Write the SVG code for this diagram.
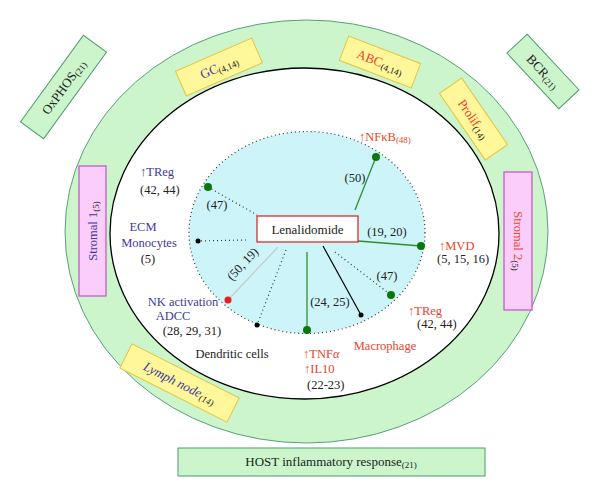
<svg xmlns="http://www.w3.org/2000/svg" width="600" height="497" viewBox="0 0 600 497" font-family="Liberation Serif, DejaVu Serif, serif">
<style>
text{font-family:'Liberation Serif','DejaVu Serif',serif;font-size:12.5px;fill:#222}
.blue{fill:#3b3b9e}
.red{fill:#e8452c}
.sub{font-size:9px;fill:#222}
.lbl{text-anchor:middle}
.ybox{fill:#fff79a;stroke:#e4c443;stroke-width:1}
.pbox{fill:#fbcdfb;stroke:#c64fc6;stroke-width:1.2}
.gbox{fill:#ccf5cc;stroke:#4f9a6e;stroke-width:1}
.gdot{fill:#0b780b}
.kdot{fill:#000}
.gl{stroke:#2f8f2f;stroke-width:1.3;fill:none}
.dl{stroke:#333;stroke-width:1.2;stroke-dasharray:1 3;fill:none}
</style>
<g id="ring">
<ellipse cx="306.5" cy="231.5" rx="241.5" ry="211.5" fill="#ccf5cc" stroke="#5a9f7c" stroke-width="1"/>
<ellipse cx="304.5" cy="233.5" rx="194.5" ry="165.5" fill="#fff" stroke="#000" stroke-width="1.3"/>
<ellipse cx="307" cy="232.5" rx="118" ry="101" fill="#cdf5f9" stroke="#333" stroke-width="1.2" stroke-dasharray="1 3"/>
</g>
<g id="connectors">
<line class="gl" x1="355" y1="210" x2="376" y2="157"/>
<line class="gl" x1="358" y1="241" x2="421" y2="246"/>
<line class="dl" x1="335" y1="252" x2="391" y2="295" stroke="#2f8f2f"/>
<line x1="323" y1="246" x2="361" y2="315" stroke="#000" stroke-width="1.2"/>
<line class="gl" x1="307" y1="252" x2="307" y2="330"/>
<line class="dl" x1="286" y1="250" x2="257" y2="325"/>
<line x1="278" y1="247" x2="228" y2="300" stroke="#c8c8c8" stroke-width="1.2"/>
<line class="dl" x1="246" y1="240" x2="198" y2="241"/>
<line class="dl" x1="208" y1="187" x2="257" y2="215"/>
<circle class="gdot" cx="376" cy="157" r="4"/>
<circle class="gdot" cx="421" cy="246" r="4"/>
<circle class="gdot" cx="391" cy="295" r="4"/>
<circle class="kdot" cx="361" cy="315" r="2.5"/>
<circle class="gdot" cx="307" cy="330" r="4"/>
<circle class="kdot" cx="257" cy="325" r="2.5"/>
<circle cx="228" cy="300" r="3.5" fill="#ee1b1b"/>
<circle class="kdot" cx="198" cy="241" r="2.5"/>
<circle class="gdot" cx="208" cy="187" r="4"/>
<text class="lbl" x="355" y="182">(50)</text>
<text class="lbl" x="387" y="236">(19, 20)</text>
<text class="lbl" x="387" y="280">(47)</text>
<text class="lbl" x="330" y="306">(24, 25)</text>
<text class="lbl" x="217" y="209">(47)</text>
<text class="lbl" x="244" y="271" transform="rotate(-47 240 267)">(50, 19)</text>
</g>
<g id="lenalidomide">
<rect x="257" y="216" width="101" height="26" fill="#fff" stroke="#d4302a" stroke-width="1.3"/>
<text class="lbl" x="307.5" y="234" style="font-size:13px">Lenalidomide</text>
</g>
<g id="treg-left">
<text class="blue" x="140" y="176">↑TReg</text>
<text x="140" y="194">(42, 44)</text>
</g>
<g id="ecm">
<text class="blue lbl" x="143" y="231">ECM</text>
<text class="blue lbl" x="149" y="247">Monocytes</text>
<text class="lbl" x="148" y="263">(5)</text>
</g>
<g id="nk">
<text class="blue lbl" x="183" y="306">NK activation</text>
<text class="blue lbl" x="173" y="320">ADCC</text>
<text class="lbl" x="192" y="335">(28, 29, 31)</text>
</g>
<g id="dendritic">
<text class="lbl" x="232" y="358">Dendritic cells</text>
</g>
<g id="tnf">
<text class="red" x="303" y="358">↑TNF<tspan font-style="italic">α</tspan></text>
<text class="red" x="304" y="373">↑IL10</text>
<text x="307" y="389">(22-23)</text>
</g>
<g id="macrophage">
<text class="red lbl" x="385" y="350">Macrophage</text>
</g>
<g id="treg-right">
<text class="red" x="408" y="315">↑TReg</text>
<text x="417" y="328">(42, 44)</text>
</g>
<g id="mvd">
<text class="red" x="439" y="250">↑MVD</text>
<text x="437" y="263">(5, 15, 16)</text>
</g>
<g id="nfkb">
<text class="red" x="359" y="141">↑NFκB<tspan class="sub red" style="fill:#e8452c" dy="2">(48)</tspan></text>
</g>
<g id="gc" transform="translate(219 67) rotate(-23.5)">
<rect class="ybox" x="-41.5" y="-13.5" width="83" height="27"/>
<text class="blue lbl" x="0" y="4.5" style="font-size:13px">GC<tspan class="sub" dy="2">(4,14)</tspan></text>
</g>
<g id="abc" transform="translate(380 62) rotate(21)">
<rect class="ybox" x="-38.5" y="-13" width="77" height="26"/>
<text class="red lbl" x="0" y="4.5" style="font-size:13px">ABC<tspan class="sub" dy="2">(4,14)</tspan></text>
</g>
<g id="prolif" transform="translate(473.5 119) rotate(55.5)">
<rect class="ybox" x="-40.5" y="-13.5" width="81" height="27"/>
<text class="red lbl" x="0" y="4.5" style="font-size:13px">Prolif<tspan class="sub" dy="2">(14)</tspan></text>
</g>
<g id="stromal2" transform="translate(518 241) rotate(90)">
<rect class="pbox" x="-69" y="-14" width="138" height="28"/>
<text class="red lbl" x="0" y="4.5" style="font-size:12.5px">Stromal 2<tspan class="sub" dy="2">(5)</tspan></text>
</g>
<g id="stromal1" transform="translate(92.5 231) rotate(-90)">
<rect class="pbox" x="-65" y="-13.5" width="130" height="27"/>
<text class="blue lbl" x="0" y="4.5" style="font-size:12.5px">Stromal 1<tspan class="sub" dy="2">(5)</tspan></text>
</g>
<g id="lymph" transform="translate(179.5 383) rotate(26.8)">
<rect class="ybox" x="-60" y="-13.5" width="120" height="27"/>
<text class="blue lbl" x="0" y="4.5" style="font-size:13px;font-style:italic">Lymph node<tspan class="sub" dy="2">(14)</tspan></text>
</g>
<g id="oxphos" transform="translate(63.5 87) rotate(-54)">
<rect class="gbox" x="-53.5" y="-14.3" width="107" height="28.6"/>
<text class="lbl" x="0" y="4.5" style="font-size:13px">OxPHOS<tspan class="sub" dy="2">(21)</tspan></text>
</g>
<g id="bcr" transform="translate(543 71.5) rotate(47)">
<rect class="gbox" x="-38" y="-13.8" width="76" height="27.6"/>
<text class="lbl" x="0" y="4.5" style="font-size:13px">BCR<tspan class="sub" dy="2">(21)</tspan></text>
</g>
<g id="host">
<rect class="gbox" x="178" y="448" width="307" height="28"/>
<text class="lbl" x="331" y="466" style="font-size:13px">HOST inflammatory response<tspan class="sub" dy="2">(21)</tspan></text>
</g>
</svg>
